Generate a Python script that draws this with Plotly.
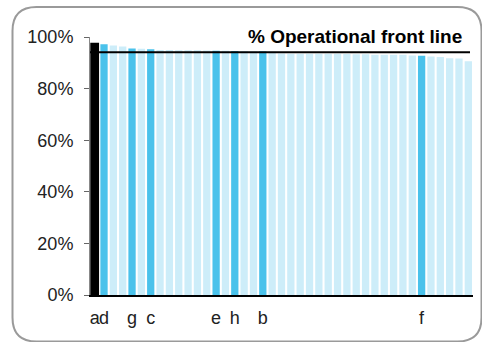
import plotly.graph_objects as go

# ---- data ----
bar_labels = ["a", "d", "", "", "g", "", "c", "", "", "", "", "", "", "e", "", "h", "", "", "b",
              "", "", "", "", "", "", "", "", "", "", "", "", "", "", "", "", "f", "", "", "", "", ""]
bar_values = [0.975, 0.972, 0.967, 0.963, 0.955, 0.954, 0.953, 0.950, 0.950, 0.949, 0.949, 0.949,
              0.948, 0.947, 0.947, 0.946, 0.946, 0.945, 0.945, 0.944, 0.936, 0.935, 0.935, 0.935,
              0.935, 0.935, 0.935, 0.934, 0.933, 0.933, 0.931, 0.931, 0.931, 0.931, 0.928, 0.927,
              0.924, 0.922, 0.918, 0.917, 0.906]
front_line = 0.941
title_text = "% Operational front line"
y_ticks = [0, 0.2, 0.4, 0.6, 0.8, 1.0]
y_tick_text = ["0%", "20%", "40%", "60%", "80%", "100%"]
focus_label = "a"

# ---- styles ----
BLACK = "#000000"
BLUE = "#4AC2EB"
LIGHT = "#CDEDF9"
FONT = "Liberation Sans, Arial, sans-serif"

x_idx = list(range(len(bar_values)))
colors = [BLACK if l == focus_label else (BLUE if l else LIGHT) for l in bar_labels]
line_w = [1.5 if l == focus_label else 0 for l in bar_labels]
tickvals = [i for i, l in enumerate(bar_labels) if l]
ticktext = [l for l in bar_labels if l]

W, H = 482, 342
L, R, T, B = 90, 9, 37, 47
pw, ph = W - L - R, H - T - B

def px(x):
    return (x - L) / pw

def py(y):
    return (H - B - y) / ph

fig = go.Figure()
fig.add_trace(go.Bar(x=x_idx, y=bar_values, marker=dict(color=colors, line=dict(color=BLACK, width=line_w)),
                     hoverinfo="skip"))

# rounded border
x0, x1, y0, y1, r = 12.5, 481.5, 7, 341.5, 24
path = (f"M {px(x0+r)},{py(y0)} L {px(x1-r)},{py(y0)} Q {px(x1)},{py(y0)} {px(x1)},{py(y0+r)} "
        f"L {px(x1)},{py(y1-r)} Q {px(x1)},{py(y1)} {px(x1-r)},{py(y1)} "
        f"L {px(x0+r)},{py(y1)} Q {px(x0)},{py(y1)} {px(x0)},{py(y1-r)} "
        f"L {px(x0)},{py(y0+r)} Q {px(x0)},{py(y0)} {px(x0+r)},{py(y0)} Z")
fig.add_shape(type="path", path=path, xref="paper", yref="paper",
              line=dict(color="#9A9A9A", width=2), layer="above")

fig.add_shape(type="line", xref="paper", yref="y", x0=0, x1=px(470), y0=front_line, y1=front_line,
              line=dict(color=BLACK, width=2))

fig.add_annotation(text=f"<b>{title_text}</b>", xref="paper", yref="paper", x=px(464), y=py(36.5),
                   xanchor="right", yanchor="middle", showarrow=False,
                   font=dict(family=FONT, size=19, color=BLACK))

fig.update_layout(
    width=W, height=H, margin=dict(l=L, r=R, t=T, b=B, pad=0, autoexpand=False),
    paper_bgcolor="white", plot_bgcolor="white", showlegend=False, bargap=0.22,
    font=dict(family=FONT, size=18, color="#222222"),
)
fig.update_xaxes(range=[-0.5, len(bar_values) - 0.5], tickvals=tickvals, ticktext=ticktext,
                 showline=True, linecolor=BLACK, linewidth=1.5, ticks="", showgrid=False, zeroline=False,
                 tickangle=0, automargin=False, ticklabelstandoff=6, tickfont=dict(size=18, color="#222222"))
fig.update_yaxes(range=[0, 1], tickvals=y_ticks, ticktext=y_tick_text, showline=True, linecolor="#888888",
                 linewidth=1, ticks="outside", ticklen=5, tickcolor="#666666", showgrid=False,
                 zeroline=False, automargin=False, ticklabelstandoff=7,
                 tickfont=dict(size=18, color="#222222"))

fig.write_html("out.html", config={"displayModeBar": False},
               post_script="document.body.style.margin='0';document.body.style.overflow='hidden';")
